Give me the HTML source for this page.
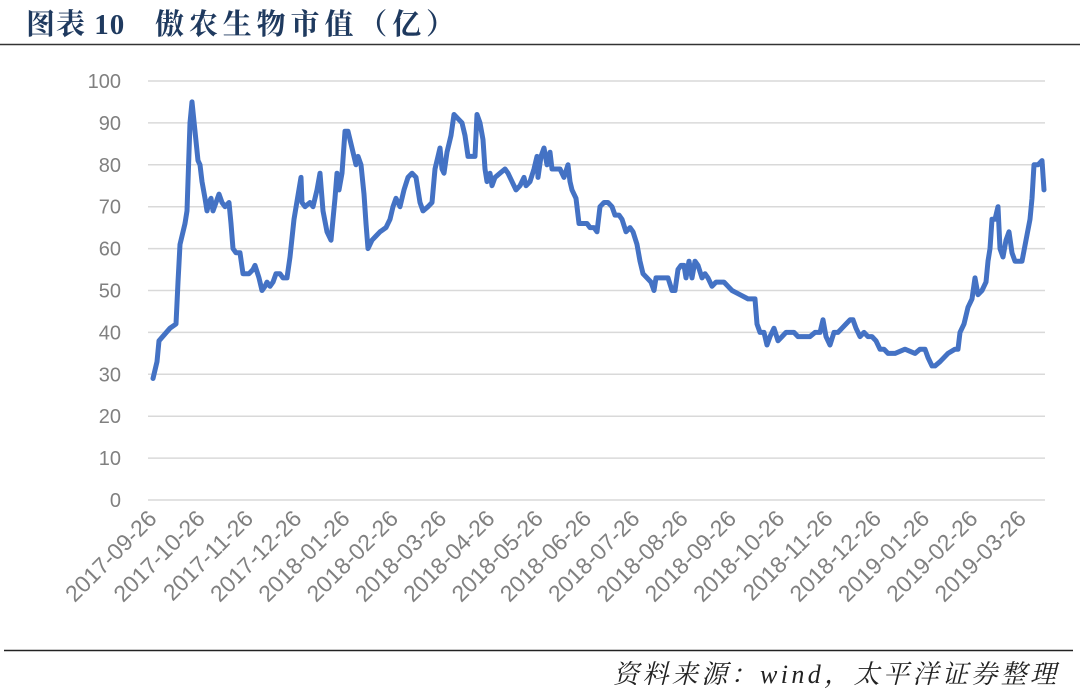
<!DOCTYPE html>
<html><head><meta charset="utf-8"><style>
html,body{margin:0;padding:0;background:#fff;}
svg{display:block}
</style></head><body>
<svg id="s" width="1080" height="693" xmlns="http://www.w3.org/2000/svg">
<rect width="1080" height="693" fill="#fff"/>
<text x="26" y="34" font-family="'Liberation Serif','Noto Serif CJK SC',serif" font-weight="bold" font-size="29" fill="#1f3a5f" letter-spacing="1">图表 10</text>
<text x="155" y="34" textLength="300" lengthAdjust="spacing" font-family="'Liberation Serif','Noto Serif CJK SC',serif" font-weight="bold" font-size="29" fill="#1f3a5f">傲农生物市值（亿）</text>
<line x1="0" y1="44.5" x2="1080" y2="44.5" stroke="#333" stroke-width="1.5"/>
<g id="grid"></g>
<g id="ylab" font-family="'Liberation Sans',sans-serif" font-size="20" fill="#808080" text-anchor="end"></g>
<g id="xlab" font-family="'Liberation Sans',sans-serif" font-size="23" fill="#808080" text-anchor="end"></g>
<polyline id="ln" fill="none" stroke="#4472c4" stroke-width="5" stroke-linejoin="round" stroke-linecap="round"/>
<line x1="4" y1="650.5" x2="1073" y2="650.5" stroke="#222" stroke-width="1.5"/>
<text x="1056" y="683" text-anchor="end" textLength="443" lengthAdjust="spacing" font-family="'Liberation Serif','Noto Serif CJK SC',serif" font-style="italic" font-size="26" fill="#222">资料来源：wind，太平洋证券整理</text>
</svg>
<script>
var ns="http://www.w3.org/2000/svg";
function Y(v){return 500-4.19*v;}
var g=document.getElementById('grid'),yl=document.getElementById('ylab'),xl=document.getElementById('xlab');
for(var v=0;v<=100;v+=10){var l=document.createElementNS(ns,'line');l.setAttribute('x1',148);l.setAttribute('x2',1045);l.setAttribute('y1',Y(v));l.setAttribute('y2',Y(v));l.setAttribute('stroke','#d9d9d9');l.setAttribute('stroke-width','1.5');g.appendChild(l);
var t=document.createElementNS(ns,'text');t.setAttribute('x',121);t.setAttribute('y',Y(v)+7);t.textContent=v;yl.appendChild(t);}
var labs=["2017-09-26","2017-10-26","2017-11-26","2017-12-26","2018-01-26","2018-02-26","2018-03-26","2018-04-26","2018-05-26","2018-06-26","2018-07-26","2018-08-26","2018-09-26","2018-10-26","2018-11-26","2018-12-26","2019-01-26","2019-02-26","2019-03-26"];
labs.forEach(function(s,i){var x=158+48.3*i,y=520;var t=document.createElementNS(ns,'text');t.setAttribute('transform','translate('+x+','+y+') rotate(-45)');t.textContent=s;xl.appendChild(t);});
var d=[153,29,157,33,159,38,170,41,176,42,178,52,180,61,185,66,187,69,190,90,192,95,195,88,198,81,200,80,202,76,205,72,207,69,209,71,211,72,213,69,216,71,219,73,222,71,225,70,229,71,231,66,233,60,236,59,240,59,243,54,249,54,253,55,255,56,259,53,262,50,265,51,267,52,270,51,273,52,276,54,280,54,283,53,287,53,290,58,294,67,301,77,302,71,305,70,310,71,313,70,317,74,320,78,323,69,327,64,331,62,335,72,337,78,339,74,342,78,345,88,348,88,352,84,356,80,358,82,361,80,364,73,366,66,368,60,372,62,376,63,380,64,386,65,390,67,393,70,396,72,400,70,404,74,408,77,412,78,416,77,420,71,423,69,428,70,432,71,435,79,438,82,440,84,442,79,444,78,447,83,451,87,454,92,458,91,462,90,465,87,468,82,471,82,475,82,477,92,480,90,483,86,485,79,487,76,490,78,492,75,495,77,500,78,505,79,508,78,512,76,516,74,520,75,524,77,526,75,530,76,534,79,537,82,538,77,541,82,544,84,547,80,550,83,552,79,556,79,560,79,564,77,568,80,570,76,572,74,576,72,579,66,584,66,587,66,590,65,594,65,597,64,600,70,604,71,608,71,612,70,615,68,619,68,622,67,626,64,630,65,633,64,637,61,640,57,643,54,647,53,651,52,654,50,656,53,660,53,664,53,668,53,672,50,675,50,678,55,681,56,684,56,686,53,689,57,692,53,695,57,698,56,702,53,705,54,708,53,712,51,716,52,720,52,724,52,728,51,732,50,740,49,748,48,755,48,757,42,760,40,764,40,767,37,770,39,774,41,778,38,782,39,786,40,790,40,794,40,798,39,802,39,806,39,810,39,815,40,820,40,823,43,826,39,830,37,834,40,838,40,842,41,846,42,850,43,853,43,856,41,860,39,864,40,868,39,872,39,876,38,880,36,884,36,888,35,895,35,905,36,915,35,920,36,925,36,928,34,932,32,935,32,940,33,948,35,955,36,958,36,960,40,964,42,968,46,972,48,975,53,978,49,982,50,986,52,988,57,990,60,992,67,995,67,998,70,1000,60,1003,58,1006,62,1009,64,1012,59,1015,57,1018,57,1022,57,1026,62,1030,67,1032,72,1034,80,1038,80,1042,81,1044,74];
var p=[];for(var i=0;i<d.length;i+=2)p.push(d[i]+','+Y(d[i+1]).toFixed(1));
document.getElementById('ln').setAttribute('points',p.join(' '));
</script>
</body></html>
